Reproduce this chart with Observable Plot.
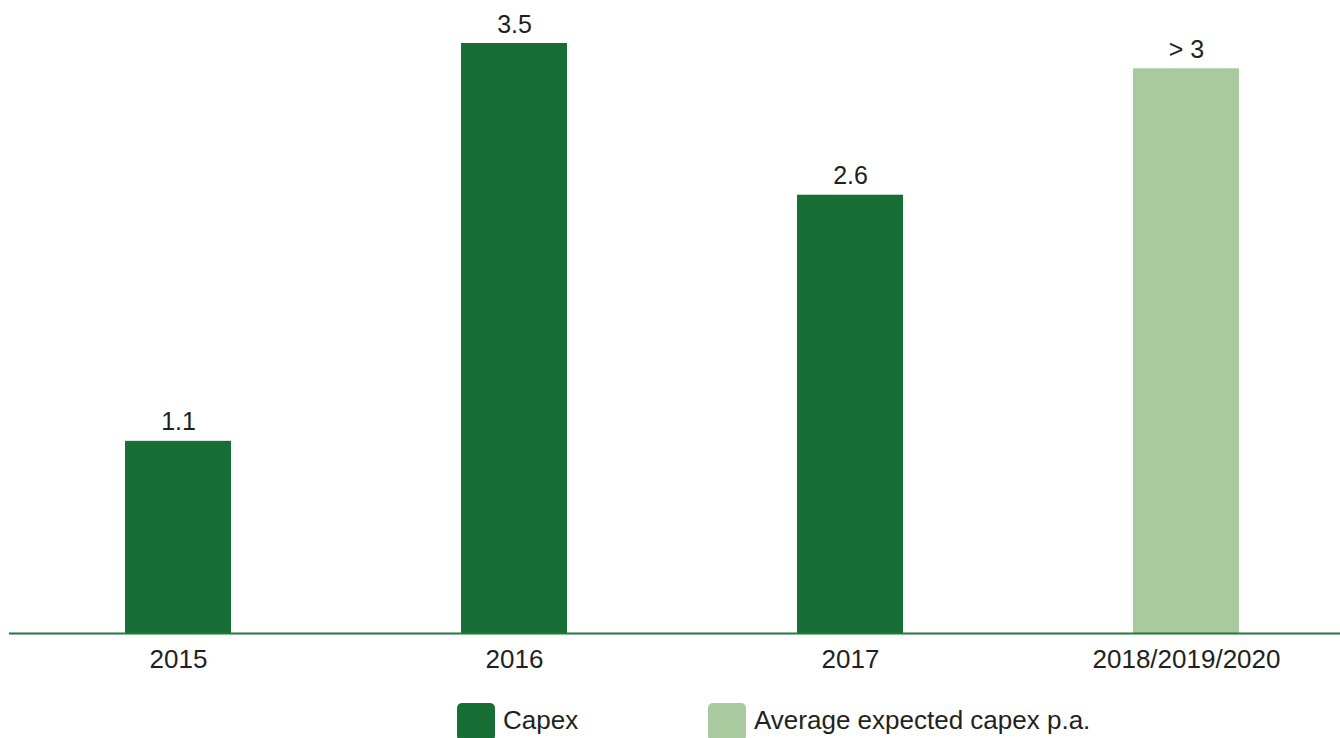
<!DOCTYPE html>
<html>
<head>
<meta charset="utf-8">
<script src="https://cdn.jsdelivr.net/npm/d3@7"></script>
<script src="https://cdn.jsdelivr.net/npm/@observablehq/plot@0.6"></script>
<style>
  html, body { margin: 0; padding: 0; background: #fff; }
  body { width: 1340px; height: 738px; overflow: hidden; font-family: "Liberation Sans", Arial, sans-serif; color: #231f20; }
  #legend { position: relative; height: 48px; }
  .item { position: absolute; top: 13px; display: flex; align-items: flex-start; font-size: 26px; }
  .sw { width: 38px; height: 38px; border-radius: 5px; margin-right: 8px; }
  .lbl { line-height: 34px; }
</style>
</head>
<body>
<div id="chart"></div>
<div id="legend"></div>
<script>
const categories = ["2015", "2016", "2017", "2018/2019/2020"];
const values = [1.14, 3.5, 2.6, 3.35];
const valueLabels = ["1.1", "3.5", "2.6", "> 3"];
const series = ["Capex", "Capex", "Capex", "Average expected capex p.a."];
const seriesNames = ["Capex", "Average expected capex p.a."];
const seriesColors = ["#176f36", "#a9c99f"];

const data = categories.map((c, i) => ({category: c, value: values[i], label: valueLabels[i], series: series[i]}));

const chart = Plot.plot({
  width: 1340,
  height: 690,
  marginLeft: 9,
  marginRight: 0,
  marginTop: 43,
  marginBottom: 57,
  style: {fontFamily: "'Liberation Sans', Arial, sans-serif", color: "#231f20", background: "#fff"},
  x: {domain: categories, padding: 0.6835, paddingOuter: 0.3195, align: 0.535, label: null},
  y: {domain: [0, 3.5], axis: null},
  color: {domain: seriesNames, range: seriesColors},
  marks: [
    Plot.barY(data, {x: "category", y: "value", fill: "series"}),
    Plot.ruleY([0], {stroke: "#1f7a38", strokeWidth: 2}),
    Plot.text(data, {x: "category", y: "value", text: "label", dy: -11, lineAnchor: "bottom", fontSize: 25, fill: "#231f20"}),
    Plot.axisX({tickSize: 0, tickPadding: 16, fontSize: 26, label: null, fill: "#231f20"})
  ]
});
document.getElementById("chart").appendChild(chart);

const legend = document.getElementById("legend");
const legendX = [457, 708];
seriesNames.forEach((name, i) => {
  const item = document.createElement("div");
  item.className = "item";
  item.style.left = legendX[i] + "px";
  const sw = document.createElement("div");
  sw.className = "sw";
  sw.style.background = chart.scale("color").apply(name);
  const lbl = document.createElement("span");
  lbl.className = "lbl";
  lbl.textContent = name;
  item.appendChild(sw);
  item.appendChild(lbl);
  legend.appendChild(item);
});
</script>
</body>
</html>
